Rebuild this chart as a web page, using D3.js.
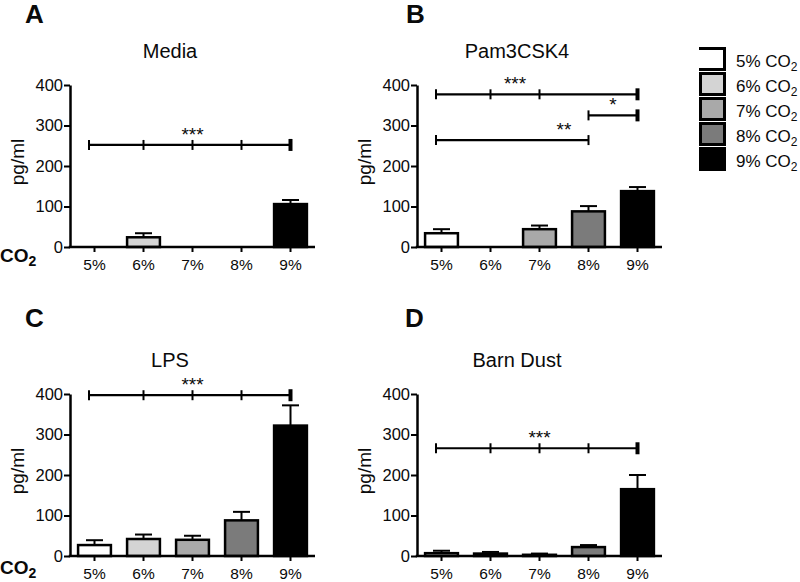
<!DOCTYPE html>
<html><head><meta charset="utf-8">
<script src="https://cdn.jsdelivr.net/npm/d3@7"></script>
<style>
body{margin:0;background:#fff}
svg{display:block}
text{font-family:"Liberation Sans",Arial,Helvetica,sans-serif;fill:#0a0a0a}
</style>
</head><body>
<svg id="chart" width="800" height="582"></svg>
<script>
const categories = ["5%","6%","7%","8%","9%"];
const yTicks = [0,100,200,300,400];
const barColors = ["#ffffff","#d4d4d4","#a9a9a9","#7b7b7b","#000000"];
const legendLabels = ["5% CO","6% CO","7% CO","8% CO","9% CO"];
const panelLetters = ["A","B","C","D"];
const panelTitles = ["Media","Pam3CSK4","LPS","Barn Dust"];

const mediaMean = [0,24,0,0,106];
const mediaErr  = [0,10,0,0,10];
const pamMean   = [34,0,44,88,138];
const pamErr    = [10,0,9,13,10];
const lpsMean   = [27,42,40,88,322];
const lpsErr    = [12,11,10,21,50];
const dustMean  = [7,6,3,22,165];
const dustErr   = [6,4,3,5,35];

// significance brackets (category indices, y value, tick indices, label, label position)
const mediaSig = [{from:0,to:4,y:252,ticks:[0,1,2,3,4],label:"***",at:2}];
const pamSig = [
  {from:0,to:4,y:377,ticks:[0,1,2,4],label:"***",at:1.5},
  {from:3,to:4,y:325,ticks:[3,4],label:"*",at:3.5},
  {from:0,to:3,y:264,ticks:[0,3],label:"**",at:2.5}
];
const lpsSig  = [{from:0,to:4,y:397,ticks:[0,1,2,3,4],label:"***",at:2}];
const dustSig = [{from:0,to:4,y:266,ticks:[0,1,2,3,4],label:"***",at:2}];

const panels = [
  {mean:mediaMean, err:mediaErr, sig:mediaSig, x0:70,  x1:315, yB:247, yT:85,  lx:25,  ly:23,  co2:262},
  {mean:pamMean,   err:pamErr,   sig:pamSig,   x0:417, x1:662, yB:247, yT:85,  lx:406, ly:23,  co2:null},
  {mean:lpsMean,   err:lpsErr,   sig:lpsSig,   x0:70,  x1:315, yB:556, yT:394, lx:25,  ly:327, co2:574},
  {mean:dustMean,  err:dustErr,  sig:dustSig,  x0:417, x1:662, yB:556, yT:394, lx:405, ly:327, co2:null}
];

const svg = d3.select("#chart");

panels.forEach((p, pi) => {
  const g = svg.append("g");
  const x = d3.scaleBand().domain(categories).range([p.x0, p.x1]).paddingInner(0.33).paddingOuter(0.165);
  const y = d3.scaleLinear().domain([0,400]).range([p.yB, p.yT]);
  const bw = x.bandwidth();
  const cx = i => x(categories[i]) + bw/2;

  // panel letter
  g.append("text").attr("x", p.lx).attr("y", p.ly).attr("font-size", 26).attr("font-weight", "bold").text(panelLetters[pi]);
  // title
  g.append("text").attr("x", p.x0 + 100).attr("y", p.yT - 27).attr("text-anchor", "middle").attr("font-size", 20).text(panelTitles[pi]);
  // y label
  g.append("text").attr("transform", `translate(${p.x0 - 46},${(p.yB + p.yT)/2 - 4}) rotate(-90)`)
    .attr("text-anchor", "middle").attr("font-size", 19).text("pg/ml");

  // error bars
  const data = categories.map((c, i) => ({c, i, m: p.mean[i], e: p.err[i]})).filter(d => d.m > 0);
  const eg = g.append("g").attr("stroke", "#000").attr("stroke-width", 2);
  eg.selectAll("line.v").data(data).join("line")
    .attr("x1", d => cx(d.i)).attr("x2", d => cx(d.i))
    .attr("y1", d => y(d.m)).attr("y2", d => y(d.m + d.e));
  eg.selectAll("line.c").data(data).join("line")
    .attr("x1", d => cx(d.i) - 8.5).attr("x2", d => cx(d.i) + 8.5)
    .attr("y1", d => y(d.m + d.e)).attr("y2", d => y(d.m + d.e));

  // bars
  g.selectAll("rect.bar").data(data).join("rect").attr("class", "bar")
    .attr("x", d => x(d.c)).attr("width", bw)
    .attr("y", d => y(d.m)).attr("height", d => y(0) - y(d.m))
    .attr("fill", d => barColors[d.i]).attr("stroke", "#000").attr("stroke-width", 2.5);

  // axes
  const ya = g.append("g").attr("transform", `translate(${p.x0},0)`)
    .call(d3.axisLeft(y).tickValues(yTicks).tickSize(6).tickSizeOuter(0).tickPadding(1));
  ya.select(".domain").attr("stroke-width", 2.5);
  ya.selectAll(".tick line").attr("stroke-width", 2);
  ya.selectAll(".tick text").attr("font-size", 16.5).attr("fill", "#0a0a0a").attr("font-family", "Liberation Sans, Arial, sans-serif");

  const xa = g.append("g").attr("transform", `translate(0,${p.yB})`)
    .call(d3.axisBottom(x).tickSize(5).tickSizeOuter(0).tickPadding(6.5));
  xa.select(".domain").attr("stroke-width", 2.5).attr("d", `M${p.x0 - 1.25},0H${p.x1}`);
  xa.selectAll(".tick line").attr("stroke-width", 2);
  xa.selectAll(".tick text").attr("font-size", 15.5).attr("fill", "#0a0a0a").attr("font-family", "Liberation Sans, Arial, sans-serif");

  // CO2 label
  if (p.co2 !== null) {
    const t = g.append("text").attr("x", 0).attr("y", p.co2).attr("font-size", 19).attr("font-weight", "bold");
    t.append("tspan").text("CO");
    t.append("tspan").attr("font-size", 14).attr("dy", 4).text("2");
  }

  // significance brackets
  const sx = i => cx(i) - (i === 0 ? 5.5 : 0);
  p.sig.forEach(s => {
    const yy = y(s.y);
    const sg = g.append("g").attr("stroke", "#000");
    sg.append("line").attr("x1", sx(s.from)).attr("x2", sx(s.to)).attr("y1", yy).attr("y2", yy).attr("stroke-width", 2.2);
    s.ticks.forEach(ti => {
      const thick = ti === categories.length - 1;
      sg.append("line").attr("x1", sx(ti)).attr("x2", sx(ti))
        .attr("y1", yy - (thick ? 6 : 5)).attr("y2", yy + (thick ? 6 : 5))
        .attr("stroke-width", thick ? 4 : 2);
    });
    g.append("text").attr("x", cx(Math.floor(s.at)) + (s.at % 1) * x.step())
      .attr("y", yy - 4).attr("text-anchor", "middle").attr("font-size", 19).text(s.label);
  });
});

// legend
const ly = d3.scaleBand().domain(categories).range([47, 172]);
const lg = svg.append("g");
categories.forEach((c, i) => {
  const y0 = ly(c), bx = 699, w = 27, h = 24;
  if (i === 0) {
    lg.append("rect").attr("x", bx).attr("y", y0).attr("width", w).attr("height", h).attr("fill", barColors[i]);
    lg.append("path").attr("d", `M${bx},${y0 + 1.5}H${bx + w - 1.5}V${y0 + h - 1.5}H${bx}`)
      .attr("fill", "none").attr("stroke", "#000").attr("stroke-width", 3);
  } else {
    lg.append("rect").attr("x", bx + 1.5).attr("y", y0 + 1.5).attr("width", w - 3).attr("height", h - 3)
      .attr("fill", barColors[i]).attr("stroke", "#000").attr("stroke-width", 3);
  }
  const t = lg.append("text").attr("x", 736).attr("y", y0 + 19.5).attr("font-size", 17);
  t.append("tspan").text(legendLabels[i]);
  t.append("tspan").attr("font-size", 12).attr("dy", 4).text("2");
});
</script>
</body></html>
